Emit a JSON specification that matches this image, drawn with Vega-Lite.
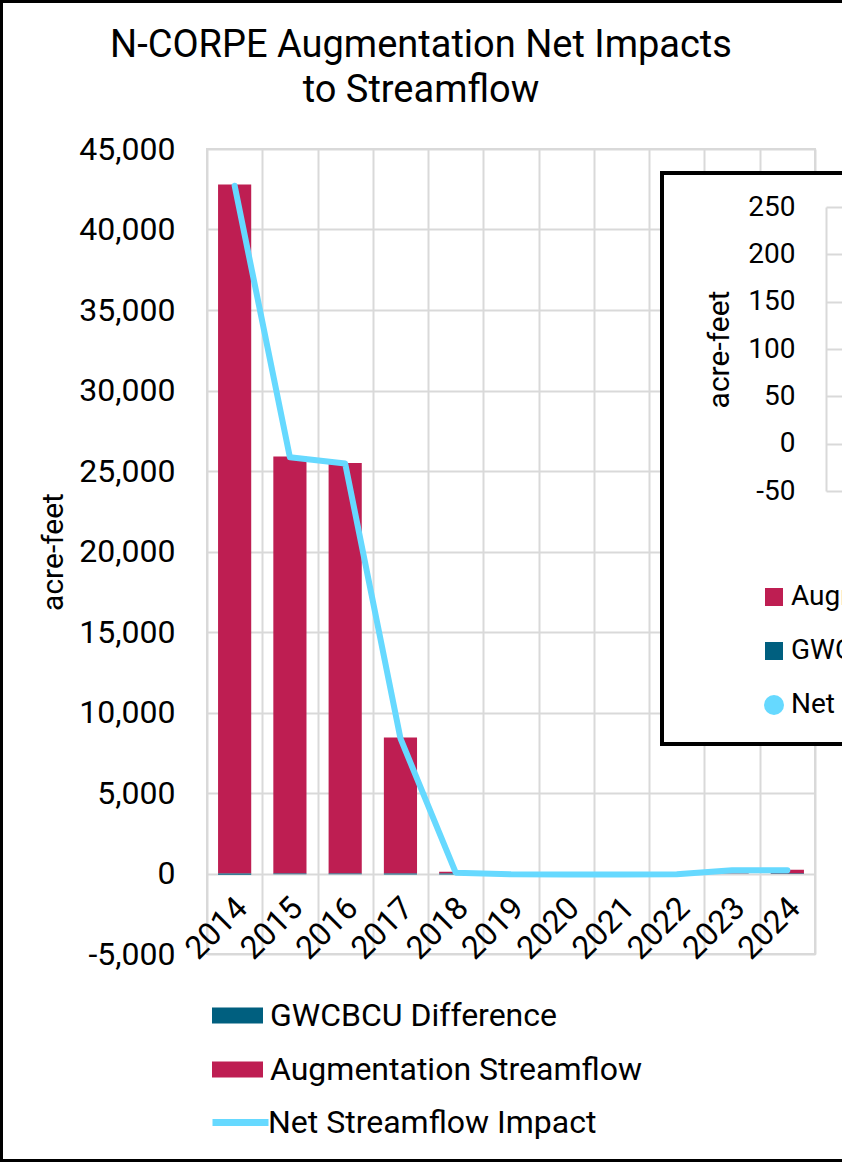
{
  "$schema": "https://vega.github.io/schema/vega-lite/v6.json",
  "width": 608,
  "height": 805,
  "autosize": {"type": "none"},
  "padding": {"left": 207, "top": 149, "right": 27, "bottom": 208},
  "background": "white",
  "title": {
    "text": ["N-CORPE Augmentation Net Impacts", "to Streamflow"],
    "fontSize": 38,
    "fontWeight": "normal",
    "font": "Roboto",
    "color": "black",
    "anchor": "middle",
    "dx": -90,
    "dy": 133,
    "lineHeight": 45,
    "offset": 22
  },
  "datasets": {
    "bars": [
      {"year": "2014", "series": "Augmentation Streamflow", "value": 42800},
      {"year": "2015", "series": "Augmentation Streamflow", "value": 25900},
      {"year": "2016", "series": "Augmentation Streamflow", "value": 25500},
      {"year": "2017", "series": "Augmentation Streamflow", "value": 8450},
      {"year": "2018", "series": "Augmentation Streamflow", "value": 110},
      {"year": "2019", "series": "Augmentation Streamflow", "value": 0},
      {"year": "2020", "series": "Augmentation Streamflow", "value": 0},
      {"year": "2021", "series": "Augmentation Streamflow", "value": 0},
      {"year": "2022", "series": "Augmentation Streamflow", "value": 0},
      {"year": "2023", "series": "Augmentation Streamflow", "value": 180},
      {"year": "2024", "series": "Augmentation Streamflow", "value": 230},
      {"year": "2014", "series": "GWCBCU Difference", "value": -80},
      {"year": "2015", "series": "GWCBCU Difference", "value": -50},
      {"year": "2016", "series": "GWCBCU Difference", "value": -40},
      {"year": "2017", "series": "GWCBCU Difference", "value": -60},
      {"year": "2018", "series": "GWCBCU Difference", "value": -60},
      {"year": "2019", "series": "GWCBCU Difference", "value": -50},
      {"year": "2020", "series": "GWCBCU Difference", "value": -60},
      {"year": "2021", "series": "GWCBCU Difference", "value": -60},
      {"year": "2022", "series": "GWCBCU Difference", "value": -50},
      {"year": "2023", "series": "GWCBCU Difference", "value": 20},
      {"year": "2024", "series": "GWCBCU Difference", "value": -30}
    ],
    "net": [
      {"year": "2014", "series": "Net Streamflow Impact", "net": 42720},
      {"year": "2015", "series": "Net Streamflow Impact", "net": 25850},
      {"year": "2016", "series": "Net Streamflow Impact", "net": 25460},
      {"year": "2017", "series": "Net Streamflow Impact", "net": 8390},
      {"year": "2018", "series": "Net Streamflow Impact", "net": 50},
      {"year": "2019", "series": "Net Streamflow Impact", "net": -50},
      {"year": "2020", "series": "Net Streamflow Impact", "net": -60},
      {"year": "2021", "series": "Net Streamflow Impact", "net": -60},
      {"year": "2022", "series": "Net Streamflow Impact", "net": -50},
      {"year": "2023", "series": "Net Streamflow Impact", "net": 200},
      {"year": "2024", "series": "Net Streamflow Impact", "net": 200}
    ],
    "inset": [
      {"year": "2018", "series": "Augmentation Streamflow", "value": 110},
      {"year": "2019", "series": "Augmentation Streamflow", "value": 0},
      {"year": "2020", "series": "Augmentation Streamflow", "value": 0},
      {"year": "2021", "series": "Augmentation Streamflow", "value": 0},
      {"year": "2022", "series": "Augmentation Streamflow", "value": 0},
      {"year": "2023", "series": "Augmentation Streamflow", "value": 180},
      {"year": "2024", "series": "Augmentation Streamflow", "value": 230},
      {"year": "2018", "series": "GWCBCU Difference", "value": -60},
      {"year": "2019", "series": "GWCBCU Difference", "value": -50},
      {"year": "2020", "series": "GWCBCU Difference", "value": -60},
      {"year": "2021", "series": "GWCBCU Difference", "value": -60},
      {"year": "2022", "series": "GWCBCU Difference", "value": -50},
      {"year": "2023", "series": "GWCBCU Difference", "value": 20},
      {"year": "2024", "series": "GWCBCU Difference", "value": -30},
      {"year": "2018", "series": "Net Streamflow Impact", "value": 50},
      {"year": "2019", "series": "Net Streamflow Impact", "value": -50},
      {"year": "2020", "series": "Net Streamflow Impact", "value": -60},
      {"year": "2021", "series": "Net Streamflow Impact", "value": -60},
      {"year": "2022", "series": "Net Streamflow Impact", "value": -50},
      {"year": "2023", "series": "Net Streamflow Impact", "value": 200},
      {"year": "2024", "series": "Net Streamflow Impact", "value": 200}
    ]
  },
  "layer": [
    {
      "layer": [
        {
          "data": {"name": "bars"},
          "mark": {"type": "bar", "width": {"band": 0.6}},
          "encoding": {
            "x": {
              "field": "year", "type": "ordinal",
              "scale": {"paddingInner": 0, "paddingOuter": 0},
              "axis": {
                "title": null, "labelAngle": -45, "labelAlign": "right", "labelBaseline": "middle",
                "labelFontSize": 32, "labelPadding": 29, "labelOffset": 7, "offset": -80.5,
                "grid": true, "tickBand": "extent", "ticks": false, "domain": false
              }
            },
            "y": {
              "field": "value", "type": "quantitative", "stack": "zero",
              "scale": {"domain": [-5000, 45000], "nice": false},
              "axis": {
                "values": [-5000, 0, 5000, 10000, 15000, 20000, 25000, 30000, 35000, 40000, 45000],
                "format": ",.0f", "labelExpr": "replace(datum.label, '\u2212', '-')",
                "labelFontSize": 32, "labelPadding": 32,
                "title": "acre-feet", "titleFontSize": 30, "titlePadding": 10, "grid": true
              }
            },
            "color": {
              "field": "series", "type": "nominal",
              "scale": {"domain": ["GWCBCU Difference", "Augmentation Streamflow"], "range": ["#005F7F", "#BE1E52"]},
              "legend": {
                "orient": "none", "legendX": 5, "legendY": 841, "title": null,
                "symbolType": "M-1,-0.31H1V0.31H-1Z", "symbolSize": 2601, "symbolStrokeWidth": 0,
                "labelFontSize": 32, "labelOffset": 7, "rowPadding": 12, "padding": 0, "direction": "vertical"
              }
            }
          }
        },
        {
          "data": {"name": "net"},
          "mark": {"type": "line", "strokeWidth": 6, "strokeCap": "round", "strokeJoin": "round"},
          "encoding": {
            "x": {"field": "year", "type": "ordinal"},
            "y": {"field": "net", "type": "quantitative"},
            "stroke": {
              "field": "series", "type": "nominal",
              "scale": {"domain": ["Net Streamflow Impact"], "range": ["#66D9FF"]},
              "legend": {
                "orient": "none", "legendX": -206, "legendY": -148,
                "title": "MMMMMMMMMMMMMMMMMMMMMMMMMMMMMMMMMMMMMMMMMMMMMMMMMMMMMMMMMMMMMMMMMMMMMMMMMMMMMMMMMMMMMMMMMMMMMMMMMMMMMMMMMMMMMMMMMMMMMMMMMMMMMMMMMMMMMMMMMMMMMMMMMMMMMMMMMMMMMMMMMMMMMMMMMMMMMMMMMMMMMMMMMMMMMMMMMMMMMMMMMMMMMMMMMMMMMMMMMMMMMMMMMMMMMMMMMMMMMMMMMMMMMMMMMMMMMMMMMMMMMMMMMMMMMMMMMMMMMMMMMMMMMMMMMMMMMMMMMMMMMMMMMMMMMMMMMMMMMMMMMMMMMMMMMMMMMMMMMMMMMMMMMMMMMMMMMMMMMMMMMMMMMMMMMMMMMMMMMMMMMMMMMMMMMMMMMMMMMMMMMMMMMMMMMMMMMMMMMMMMMMMMMMMMMMMMMMMMMMMMMMMMMMMMMMMMMMMMMMMMMMMMMMMMMMMMMMMMMMMMMMMMMMMMMMMMMMMMMMMMMMMMMMMMMMMMMMMMMMMMMMMMMMMMMMMMMMMMMMMMMMMMMMMMMMMMMMMMMMMMMMMMMMMMMMMMMMMMMMMMMMMMMMMMMMM",
                "titleFontSize": 2, "titleOpacity": 0, "titleLimit": 8000, "titlePadding": 1066,
                "strokeColor": "black", "padding": 22, "symbolOffset": 186,
                "symbolType": "stroke", "symbolSize": 3136, "symbolStrokeWidth": 7,
                "labelFontSize": 32, "labelOffset": -4
              }
            }
          }
        }
      ]
    },
    {
      "data": {"name": "inset"},
      "mark": {"type": "point", "filled": true, "size": 60, "opacity": 1},
      "encoding": {
        "x": {"field": "year", "type": "ordinal", "scale": {"type": "point", "range": [700, 1300]}, "axis": null},
        "y": {
          "field": "value", "type": "quantitative",
          "scale": {"domain": [-50, 250], "nice": false, "range": [342, 58]},
          "axis": {
            "orient": "left", "offset": -619, "values": [-50, 0, 50, 100, 150, 200, 250],
            "labelExpr": "replace(datum.label, '\u2212', '-')",
            "grid": false, "domain": true, "domainColor": "#d9d9d9", "domainWidth": 2,
            "ticks": true, "tickSize": -20, "tickColor": "#d9d9d9", "tickWidth": 2,
            "labelPadding": 51, "labelFontSize": 28,
            "title": "acre-feet", "titleFontSize": 30, "titlePadding": 13, "zindex": 1
          }
        },
        "fill": {
          "field": "series", "type": "nominal",
          "scale": {"domain": ["Augmentation Streamflow", "GWCBCU Difference", "Net Streamflow Impact"], "range": ["#BE1E52", "#005F7F", "#66D9FF"]},
          "legend": {
            "orient": "none", "legendX": 455, "legendY": 24, "title": " ", "titleFontSize": 10, "titlePadding": 375,
            "padding": 25, "fillColor": "white", "strokeColor": "black", "symbolOffset": 73, "symbolSize": 400,
            "symbolStrokeWidth": 0, "symbolOpacity": 1, "labelFontSize": 28, "labelOffset": 3, "rowPadding": 26
          }
        },
        "shape": {
          "field": "series", "type": "nominal",
          "scale": {"domain": ["Augmentation Streamflow", "GWCBCU Difference", "Net Streamflow Impact"], "range": ["M-0.9,-0.9H0.9V0.9H-0.9Z", "M-0.9,-0.9H0.9V0.9H-0.9Z", "circle"]},
          "legend": {
            "orient": "none", "legendX": 455, "legendY": 24, "title": " ", "titleFontSize": 10, "titlePadding": 375,
            "padding": 25, "fillColor": "white", "strokeColor": "black", "symbolOffset": 73, "symbolSize": 400,
            "symbolStrokeWidth": 0, "symbolOpacity": 1, "labelFontSize": 28, "labelOffset": 3, "rowPadding": 26
          }
        }
      }
    }
  ],
  "resolve": {"scale": {"x": "independent", "y": "independent"}},
  "config": {
    "font": "Roboto",
    "view": {"stroke": "#d9d9d9", "strokeWidth": 2},
    "axis": {
      "labelFont": "Roboto", "titleFont": "Roboto", "labelColor": "black", "titleColor": "black",
      "titleFontWeight": "normal", "gridColor": "#d9d9d9", "gridWidth": 2, "domain": false, "ticks": false
    },
    "legend": {
      "labelFont": "Roboto", "titleFont": "Roboto", "labelColor": "black", "labelLimit": 2000, "strokeWidth": 4
    }
  }
}
